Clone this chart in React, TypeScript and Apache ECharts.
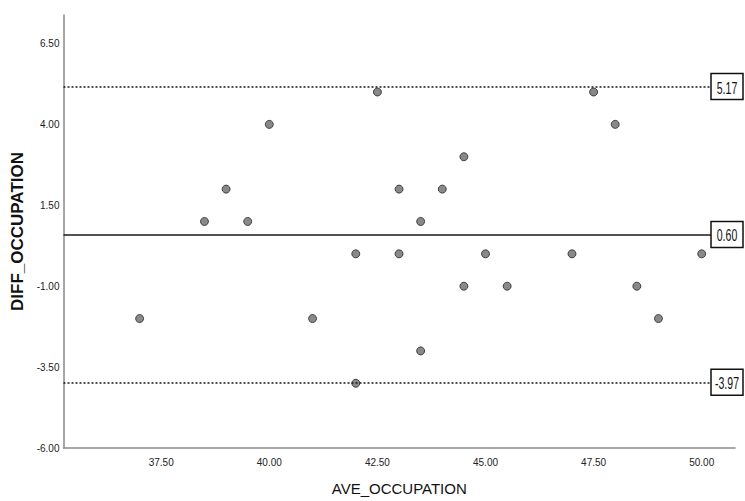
import React, { useEffect, useRef } from "react";
import * as echarts from "echarts";

const aveOccupation = [37, 38.5, 39, 39.5, 40, 41, 42, 42, 42.5, 43, 43, 43.5, 43.5, 44, 44.5, 44.5, 45, 45.5, 47, 47.5, 48, 48.5, 49, 50];
const diffOccupation = [-2, 1, 2, 1, 4, -2, 0, -4, 5, 2, 0, 1, -3, 2, 3, -1, 0, -1, 0, 5, 4, -1, -2, 0];
const upperLimit = 5.17;
const meanDiff = 0.6;
const lowerLimit = -3.97;
const xTicks = [37.5, 40, 42.5, 45, 47.5, 50];
const yTicks = [-6, -3.5, -1, 1.5, 4, 6.5];
const xRange = [35.24, 50.77];
const yRange = [-6, 7.38];

const FONT = "'Liberation Sans', Arial, Helvetica, sans-serif";

export default function App() {
  const ref = useRef<HTMLDivElement>(null);
  useEffect(() => {
    if (!ref.current) return;
    const chart = echarts.init(ref.current, null, { renderer: "svg" });
    const points = aveOccupation.map((x, i) => [x, diffOccupation[i]]);
    const refLines = [
      { v: upperLimit, type: [2, 2] as any },
      { v: meanDiff, type: "solid" as any },
      { v: lowerLimit, type: [2, 2] as any },
    ];
    chart.setOption({
      animation: false,
      grid: { left: 63.5, right: 10, top: 15, bottom: 53 },
      xAxis: {
        type: "value",
        min: xRange[0],
        max: xRange[1],
        name: "AVE_OCCUPATION",
        nameLocation: "middle",
        nameGap: 33,
        nameTextStyle: { fontFamily: FONT, fontSize: 15, color: "#111" },
        axisLine: { show: true, onZero: false, lineStyle: { color: "#8a8a8a", width: 1.5 } },
        axisTick: { show: false },
        splitLine: { show: false },
        axisLabel: {
          customValues: xTicks,
          formatter: (v: number) => v.toFixed(2),
          fontFamily: FONT,
          fontSize: 10,
          color: "#222",
          margin: 9,
        },
      },
      yAxis: {
        type: "value",
        min: yRange[0],
        max: yRange[1],
        name: "DIFF_OCCUPATION",
        nameLocation: "middle",
        nameGap: 36,
        nameTextStyle: { fontFamily: FONT, fontSize: 17, fontWeight: "bold", color: "#111" },
        axisLine: { show: true, onZero: false, lineStyle: { color: "#8a8a8a", width: 1.5 } },
        axisTick: { show: false },
        splitLine: { show: false },
        axisLabel: {
          customValues: yTicks,
          formatter: (v: number) => v.toFixed(2),
          fontFamily: FONT,
          fontSize: 10,
          color: "#222",
          margin: 4,
          padding: [3, 0, 0, 0],
        },
      },
      series: [
        {
          type: "scatter",
          data: points,
          symbol: "circle",
          symbolSize: 8,
          itemStyle: { color: "#6b6b6b", borderColor: "#262626", borderWidth: 1 },
          markLine: {
            silent: true,
            symbol: "none",
            label: { show: false },
            data: refLines.map((l) => ({
              yAxis: l.v,
              lineStyle: { color: "#1a1a1a", width: 1.5, type: l.type },
            })),
          },
          z: 3,
        },
      ],
    });
    const graphics: any[] = [];
    refLines.forEach((l) => {
      const p = chart.convertToPixel({ gridIndex: 0 }, [xRange[1], l.v]) as number[];
      graphics.push({
        type: "rect",
        z: 10,
        shape: { x: 711, y: p[1] - 13, width: 32, height: 26 },
        style: { fill: "#fff", stroke: "#111", lineWidth: 1.5 },
      });
      graphics.push({
        type: "text",
        x: 727,
        y: p[1] + 1,
        scaleX: 0.62,
        z: 11,
        style: {
          text: l.v.toFixed(2),
          fontFamily: FONT,
          fontSize: 17,
          fill: "#111",
          align: "center",
          verticalAlign: "middle",
        },
      });
    });
    chart.setOption({ graphic: graphics });
    return () => chart.dispose();
  }, []);
  return <div ref={ref} style={{ position: "absolute", left: 0, top: 0, width: 745, height: 501, background: "#fff" }} />;
}
